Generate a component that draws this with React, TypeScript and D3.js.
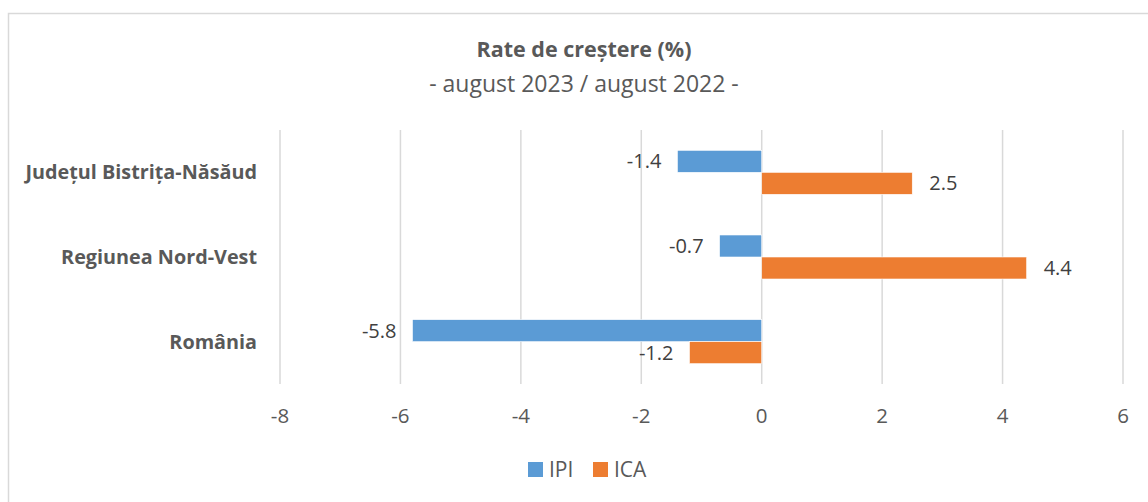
import * as d3 from "d3";

const categories = ["Județul Bistrița-Năsăud", "Regiunea Nord-Vest", "România"];
const seriesNames = ["IPI", "ICA"];
const ipiValues = [-1.4, -0.7, -5.8];
const icaValues = [2.5, 4.4, -1.2];
const xTicks = [-8, -6, -4, -2, 0, 2, 4, 6];

const COLORS: Record<string, string> = { IPI: "#5B9BD5", ICA: "#ED7D31" };
const FONT = "'Open Sans', Calibri, sans-serif";
const WIDTH = 1148;
const HEIGHT = 502;
const PLOT = { left: 280, right: 1123, top: 130, bottom: 384 };

export default function App() {
  const x = d3.scaleLinear().domain([-8, 6]).range([PLOT.left, PLOT.right]);
  const y = d3.scaleBand().domain(categories).range([PLOT.top, PLOT.bottom]);
  const sub = d3
    .scaleBand()
    .domain(seriesNames)
    .range([0, y.bandwidth()])
    .paddingInner(0)
    .paddingOuter(0.924);

  const rows = categories.flatMap((c, i) => [
    { cat: c, series: "IPI", value: ipiValues[i] },
    { cat: c, series: "ICA", value: icaValues[i] },
  ]);

  return (
    <svg
      width={WIDTH}
      height={HEIGHT}
      style={{ position: "absolute", left: 0, top: 0, display: "block" }}
      fontFamily={FONT}
    >
      <rect x={0} y={0} width={WIDTH} height={HEIGHT} fill="#fff" />
      {/* chart border, cropped on right and bottom */}
      <rect x={8.5} y={13.5} width={1160} height={520} fill="none" stroke="#d9d9d9" strokeWidth={1.5} />

      <text x={584} y={57} textAnchor="middle" fontSize={21.5} fontWeight={700} fill="#595959">
        Rate de creștere (%)
      </text>
      <text x={584} y={92} textAnchor="middle" fontSize={23} fill="#595959">
        - august 2023 / august 2022 -
      </text>

      {/* gridlines */}
      {xTicks.map((t) => (
        <line
          key={t}
          x1={x(t)}
          x2={x(t)}
          y1={PLOT.top}
          y2={PLOT.bottom}
          stroke="#d9d9d9"
          strokeWidth={1.5}
        />
      ))}

      {/* tick labels */}
      {xTicks.map((t) => (
        <text key={t} x={x(t)} y={423} textAnchor="middle" fontSize={20.5} fill="#595959">
          {t}
        </text>
      ))}

      {/* category labels */}
      {categories.map((c) => (
        <text
          key={c}
          x={257}
          y={(y(c) ?? 0) + y.bandwidth() / 2}
          dy="0.35em"
          textAnchor="end"
          fontSize={19.8}
          fontWeight={700}
          fill="#595959"
        >
          {c}
        </text>
      ))}

      {/* bars */}
      {rows.map((r) => {
        const by = (y(r.cat) ?? 0) + (sub(r.series) ?? 0);
        const x0 = x(Math.min(0, r.value));
        const x1 = x(Math.max(0, r.value));
        return (
          <rect
            key={r.cat + r.series}
            x={x0}
            y={by}
            width={x1 - x0}
            height={sub.bandwidth()}
            fill={COLORS[r.series]}
            stroke="#fff"
            strokeWidth={0.6}
          />
        );
      })}

      {/* data labels */}
      {rows.map((r) => {
        const by = (y(r.cat) ?? 0) + (sub(r.series) ?? 0) + sub.bandwidth() / 2;
        const neg = r.value < 0;
        return (
          <text
            key={"l" + r.cat + r.series}
            x={x(r.value) + (neg ? -16 : 17)}
            y={by}
            dy="0.35em"
            textAnchor={neg ? "end" : "start"}
            fontSize={20}
            fill="#404040"
          >
            {r.value.toFixed(1)}
          </text>
        );
      })}

      {/* legend */}
      {seriesNames.map((s, i) => {
        const lx = 528 + i * 65;
        return (
          <g key={s}>
            <rect x={lx} y={462} width={15} height={15} fill={COLORS[s]} />
            <text x={lx + 21} y={469.5} dy="0.35em" fontSize={21} fill="#595959">
              {s}
            </text>
          </g>
        );
      })}
    </svg>
  );
}
